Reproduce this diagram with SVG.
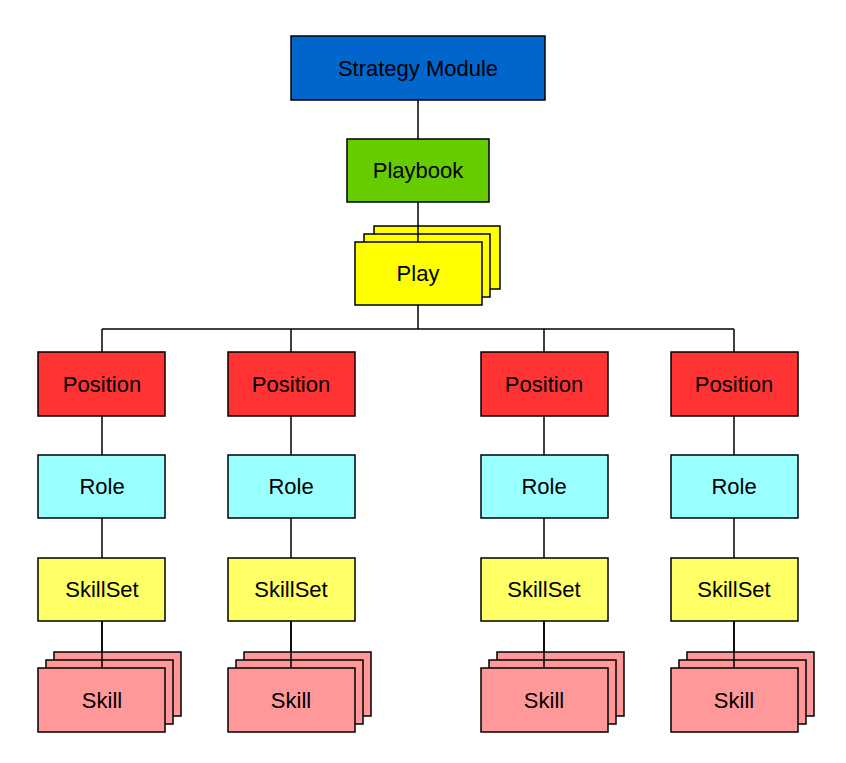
<svg xmlns="http://www.w3.org/2000/svg" width="846" height="763" viewBox="0 0 846 763">
<style>
rect{stroke:#000;stroke-width:1.5}
text{font-family:"Liberation Sans",Arial,sans-serif;font-size:22px;text-anchor:middle;dominant-baseline:central;fill:#000}
.c{stroke:#000;stroke-width:1.5;fill:none}
.pos{fill:#ff3333}.role{fill:#99ffff}.ss{fill:#ffff66}.sk{fill:#ff9999}
</style>
<rect width="846" height="763" fill="#fff" style="stroke:none"/>
<g id="connectors">
<path class="c" d="M418 100V242M418 305V329M102 329H734M102 329V668M291 329V668M544 329V668M734 329V668"/>
</g>
<g id="strategy"><rect x="291" y="36" width="254" height="64" fill="#0066cc"/><text x="418" y="68">Strategy Module</text></g>
<g id="playbook"><rect x="347" y="139" width="142" height="63" fill="#66cc00"/><text x="418" y="170">Playbook</text></g>
<g id="play">
<rect x="374" y="226" width="126" height="63" fill="#ffff00"/>
<rect x="364" y="234" width="126" height="63" fill="#ffff00"/>
<path class="c" d="M418 226V242"/>
<rect x="355" y="242" width="127" height="63" fill="#ffff00"/>
<text x="418" y="273">Play</text></g>
<g id="col1">
<rect class="pos" x="38" y="352" width="127" height="64"/><text x="102" y="384">Position</text>
<rect class="role" x="38" y="455" width="127" height="63"/><text x="102" y="486">Role</text>
<rect class="ss" x="38" y="558" width="127" height="63"/><text x="102" y="589">SkillSet</text>
<rect class="sk" x="54" y="652" width="127" height="64"/><rect class="sk" x="46" y="660" width="127" height="64"/><path class="c" d="M102 621V668"/><rect class="sk" x="38" y="668" width="127" height="64"/><text x="102" y="700">Skill</text>
</g>
<g id="col2">
<rect class="pos" x="228" y="352" width="127" height="64"/><text x="291" y="384">Position</text>
<rect class="role" x="228" y="455" width="127" height="63"/><text x="291" y="486">Role</text>
<rect class="ss" x="228" y="558" width="127" height="63"/><text x="291" y="589">SkillSet</text>
<rect class="sk" x="244" y="652" width="127" height="64"/><rect class="sk" x="236" y="660" width="127" height="64"/><path class="c" d="M291 621V668"/><rect class="sk" x="228" y="668" width="127" height="64"/><text x="291" y="700">Skill</text>
</g>
<g id="col3">
<rect class="pos" x="481" y="352" width="127" height="64"/><text x="544" y="384">Position</text>
<rect class="role" x="481" y="455" width="127" height="63"/><text x="544" y="486">Role</text>
<rect class="ss" x="481" y="558" width="127" height="63"/><text x="544" y="589">SkillSet</text>
<rect class="sk" x="497" y="652" width="127" height="64"/><rect class="sk" x="489" y="660" width="127" height="64"/><path class="c" d="M544 621V668"/><rect class="sk" x="481" y="668" width="127" height="64"/><text x="544" y="700">Skill</text>
</g>
<g id="col4">
<rect class="pos" x="671" y="352" width="127" height="64"/><text x="734" y="384">Position</text>
<rect class="role" x="671" y="455" width="127" height="63"/><text x="734" y="486">Role</text>
<rect class="ss" x="671" y="558" width="127" height="63"/><text x="734" y="589">SkillSet</text>
<rect class="sk" x="687" y="652" width="127" height="64"/><rect class="sk" x="679" y="660" width="127" height="64"/><path class="c" d="M734 621V668"/><rect class="sk" x="671" y="668" width="127" height="64"/><text x="734" y="700">Skill</text>
</g>
</svg>
